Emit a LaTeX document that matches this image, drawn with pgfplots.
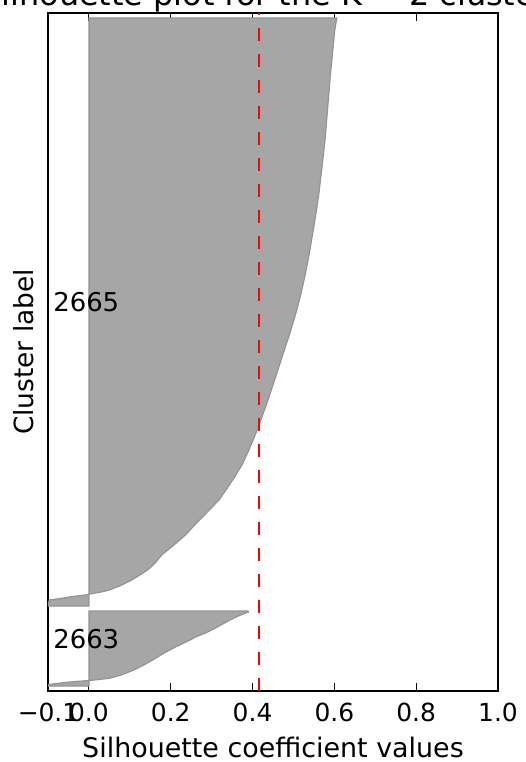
\documentclass[border=0pt]{standalone}
\usepackage{fontspec}
\setmainfont{DejaVu Sans}
\usepackage{pgfplots}
\pgfplotsset{compat=1.18}
\definecolor{fillgray}{RGB}{166,166,166}
\definecolor{edgegray}{RGB}{148,148,148}
\begin{document}
\begin{tikzpicture}
\begin{axis}[
  name=ax,
  scale only axis,
  width=450bp, height=678bp,
  xmin=-0.1, xmax=1.0, ymin=0, ymax=1356,
  xtick={-0.1,0,0.2,0.4,0.6,0.8,1.0},
  xticklabels={−0.1,0.0,0.2,0.4,0.6,0.8,1.0},
  ytick=\empty,
  tick align=inside,
  major tick length=8bp,
  every tick/.style={black, line width=1bp},
  axis line style={line width=1.3bp},
  xticklabel style={font=\fontsize{25}{30}\selectfont, anchor=base, yshift=-30bp, inner sep=0pt},
  every axis title shift=0pt,
  title={Silhouette plot for the K = 2 clusters},
  title style={font=\fontsize{32}{38}\selectfont, at={(axis description cs:0.5,1.01106)}, anchor=base, inner sep=0pt},
  xlabel={Silhouette coefficient values},
  xlabel style={font=\fontsize{27}{32}\selectfont, at={(axis description cs:0.5,-0.09735)}, anchor=base, inner sep=0pt},
  ylabel={Cluster label},
  ylabel style={font=\fontsize{26.5}{31}\selectfont, at={(axis description cs:-0.0333,0.5)}, anchor=base, rotate=0, inner sep=0pt},
  clip=true,
]
% cluster 0 (bottom)
\addplot[fill=fillgray, draw=edgegray, line width=1.2bp] coordinates {
 (0,10) (-0.1,10) (-0.098,13) (-0.07,16) (-0.04,18.5) (0,21)
 (0.025,23) (0.05,25.4) (0.075,31) (0.1,38.6) (0.12,46) (0.141,55)
 (0.162,65) (0.182,75) (0.202,84) (0.222,92) (0.242,100) (0.263,108.6)
 (0.285,116) (0.305,124) (0.325,133) (0.345,142) (0.365,150) (0.38,155)
 (0.39,158) (0.389,160) (0,160)
} -- cycle;
% cluster 1 (top)
\addplot[fill=fillgray, draw=edgegray, line width=1.2bp] coordinates {
 (0,170) (-0.1,170) (-0.097,182) (-0.07,185) (-0.04,189) (0,193)
 (0.002,194) (0.03,198) (0.05,202) (0.075,210) (0.1,220) (0.125,232)
 (0.148,245) (0.164,258) (0.178,272) (0.205,290) (0.236,312) (0.262,335)
 (0.292,360) (0.318,382) (0.34,408) (0.358,430) (0.376,455) (0.39,480)
 (0.403,505) (0.415,530) (0.426,555) (0.437,580) (0.449,610) (0.461,640)
 (0.475,675) (0.489,710) (0.504,750) (0.517,790) (0.528,830) (0.539,876)
 (0.549,925) (0.556,960) (0.563,1000) (0.570,1050) (0.577,1100) (0.583,1160)
 (0.590,1229) (0.596,1280) (0.601,1322) (0.606,1346) (0,1346)
} -- cycle;
% average silhouette
\addplot[red, line width=2bp, dash pattern=on 13bp off 13bp] coordinates {(0.415,0) (0.415,1356)};
\node[anchor=base west, inner sep=0pt, font=\fontsize{26}{31}\selectfont] at (axis cs:-0.0875,85) {2663};
\node[anchor=base west, inner sep=0pt, font=\fontsize{26}{31}\selectfont] at (axis cs:-0.0875,758) {2665};
\end{axis}
\pgfresetboundingbox
\useasboundingbox ([xshift=-48bp,yshift=-71bp]ax.south west) rectangle ([xshift=28bp,yshift=13bp]ax.north east);
\end{tikzpicture}
\end{document}
